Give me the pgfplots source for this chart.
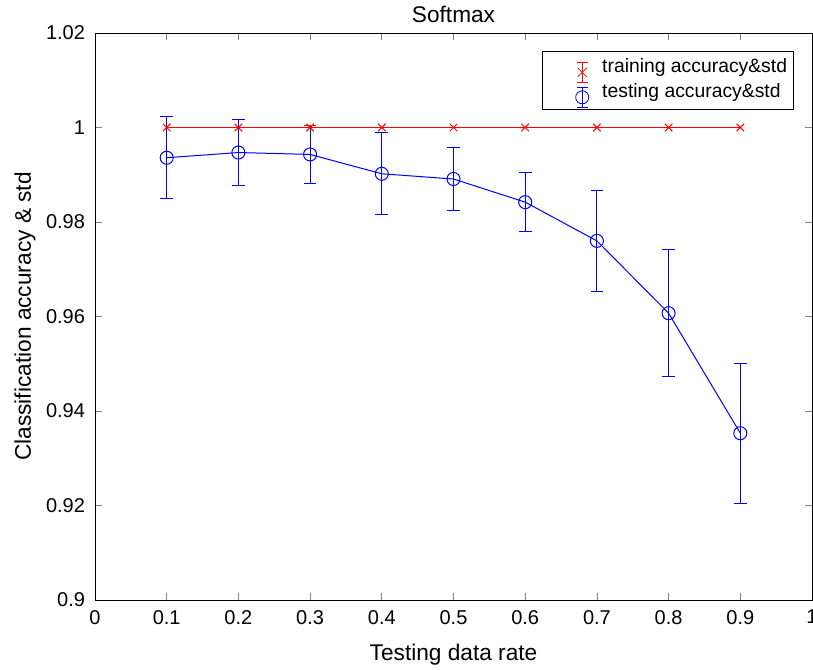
\documentclass[border=0pt]{standalone}
\usepackage{fontspec}
\setmainfont{Liberation Sans}
\usepackage{pgfplots}
\pgfplotsset{compat=1.18}

\begin{document}
\begin{tikzpicture}
\begin{axis}[
    at={(0,0)}, anchor=south west,
    scale only axis,
    width=537.75pt, height=425.25pt,
    xmin=0, xmax=1, ymin=0.9, ymax=1.02,
    xtick={0,0.1,...,1.0},
    ytick={0.9,0.92,0.94,0.96,0.98,1,1.02},
    xticklabels={0,0.1,0.2,0.3,0.4,0.5,0.6,0.7,0.8,0.9,1},
    yticklabels={0.9,0.92,0.94,0.96,0.98,1,1.02},
    tick pos=both, tick align=inside,
    major tick length=5pt,
    axis line style={line width=0.6pt},
    tick style={line width=0.6pt},
    every tick label/.append style={font=\fontsize{15}{18}\selectfont},
    yticklabel style={xshift=-4pt},
    xticklabel style={yshift=-4pt},
    /pgf/number format/assume math mode=true,
    title={Softmax},
    title style={font=\fontsize{17}{20}\selectfont, at={(axis description cs:0.5,1.019)}, anchor=center},
    xlabel={Testing data rate},
    ylabel={Classification accuracy \& std},
    xlabel style={font=\fontsize{17}{20}\selectfont, at={(axis description cs:0.5,-0.0964)}, anchor=center},
    ylabel style={font=\fontsize{17}{20}\selectfont, at={(axis description cs:-0.0976,0.5)}, anchor=center},
    legend style={
        at={(axis description cs:1,1)}, anchor=north east,
        xshift=-13.5pt, yshift=-13.5pt,
        fill=white,
        inner xsep=5pt, inner ysep=5pt,
        font=\fontsize{14.5}{17}\selectfont,
        row sep=4.35pt,
        /tikz/every even column/.append style={column sep=20pt},
        nodes={inner sep=0pt, text height=10.8pt, text depth=3.6pt, anchor=base west},
    },
    legend cell align=left,
]
% training accuracy
\addplot+[color=red, line width=0.75pt, mark=x, mark size=4pt, mark options={red, solid},
    legend image code/.code={
        \path[draw=none] (0pt,-3pt) rectangle (40pt,3pt);
        \draw[overlay, draw=red, line width=0.6pt] (25pt,-7.5pt) -- (25pt,7.5pt)
            (21pt,-7.5pt) -- (29pt,-7.5pt) (21pt,7.5pt) -- (29pt,7.5pt);
        \draw[overlay, draw=red, line width=0.6pt] (21.5pt,-3.5pt) -- (28.5pt,3.5pt) (21.5pt,3.5pt) -- (28.5pt,-3.5pt);
    }]
    table[x=x, y=y] {
    x   y
    0.1 1.0000
    0.2 1.0000
    0.3 1.0000
    0.4 1.0000
    0.5 1.0000
    0.6 1.0000
    0.7 1.0000
    0.8 1.0000
    0.9 1.0000
};
\addlegendentry{training accuracy\&std}
% testing accuracy
\addplot+[color=blue, line width=0.75pt, mark=o, mark size=4.9pt, mark options={blue, solid},
    legend image code/.code={
        \path[draw=none] (0pt,-3pt) rectangle (40pt,3pt);
        \draw[overlay, draw=blue, line width=0.6pt] (25pt,-7.5pt) -- (25pt,7.5pt)
            (21pt,-7.5pt) -- (29pt,-7.5pt) (21pt,7.5pt) -- (29pt,7.5pt);
        \draw[overlay, draw=blue, line width=0.6pt] (25pt,0pt) circle[radius=4.9pt];
    }]
    table[x=x, y=y] {
    x   y
    0.1 0.9936
    0.2 0.9947
    0.3 0.9943
    0.4 0.9902
    0.5 0.9891
    0.6 0.9842
    0.7 0.9760
    0.8 0.9607
    0.9 0.9353
};
\addlegendentry{testing accuracy\&std}

% testing: std bars (mean-std to mean+std) with caps
\addplot[blue, line width=0.75pt, mark=none, unbounded coords=jump, forget plot]
    coordinates {
    (0.1,0.9849) (0.1,1.0023) (0.1,nan) (0.0911,0.9849) (0.1089,0.9849) (0.1,nan) (0.0911,1.0023) (0.1089,1.0023) (0.1,nan)
    (0.2,0.9878) (0.2,1.0016) (0.2,nan) (0.1911,0.9878) (0.2089,0.9878) (0.2,nan) (0.1911,1.0016) (0.2089,1.0016) (0.2,nan)
    (0.3,0.9882) (0.3,1.0004) (0.3,nan) (0.2911,0.9882) (0.3089,0.9882) (0.3,nan) (0.2911,1.0004) (0.3089,1.0004) (0.3,nan)
    (0.4,0.9815) (0.4,0.9989) (0.4,nan) (0.3911,0.9815) (0.4089,0.9815) (0.4,nan) (0.3911,0.9989) (0.4089,0.9989) (0.4,nan)
    (0.5,0.9825) (0.5,0.9957) (0.5,nan) (0.4911,0.9825) (0.5089,0.9825) (0.5,nan) (0.4911,0.9957) (0.5089,0.9957) (0.5,nan)
    (0.6,0.9779) (0.6,0.9905) (0.6,nan) (0.5911,0.9779) (0.6089,0.9779) (0.6,nan) (0.5911,0.9905) (0.6089,0.9905) (0.6,nan)
    (0.7,0.9653) (0.7,0.9867) (0.7,nan) (0.6911,0.9653) (0.7089,0.9653) (0.7,nan) (0.6911,0.9867) (0.7089,0.9867) (0.7,nan)
    (0.8,0.9473) (0.8,0.9741) (0.8,nan) (0.7911,0.9473) (0.8089,0.9473) (0.8,nan) (0.7911,0.9741) (0.8089,0.9741) (0.8,nan)
    (0.9,0.9205) (0.9,0.9501) (0.9,nan) (0.8911,0.9205) (0.9089,0.9205) (0.9,nan) (0.8911,0.9501) (0.9089,0.9501)
    };
% training: std bar at 0.3 with cap
\addplot[red, line width=0.75pt, mark=none, unbounded coords=jump, forget plot]
    coordinates {(0.3,0.9996) (0.3,1.0004) (0.3,nan) (0.2916,1.0004) (0.3084,1.0004)};
\end{axis}
\pgfresetboundingbox
\path[use as bounding box] (-71.25pt,-52.5pt) rectangle (538.5pt,450pt);
\end{tikzpicture}
\end{document}
